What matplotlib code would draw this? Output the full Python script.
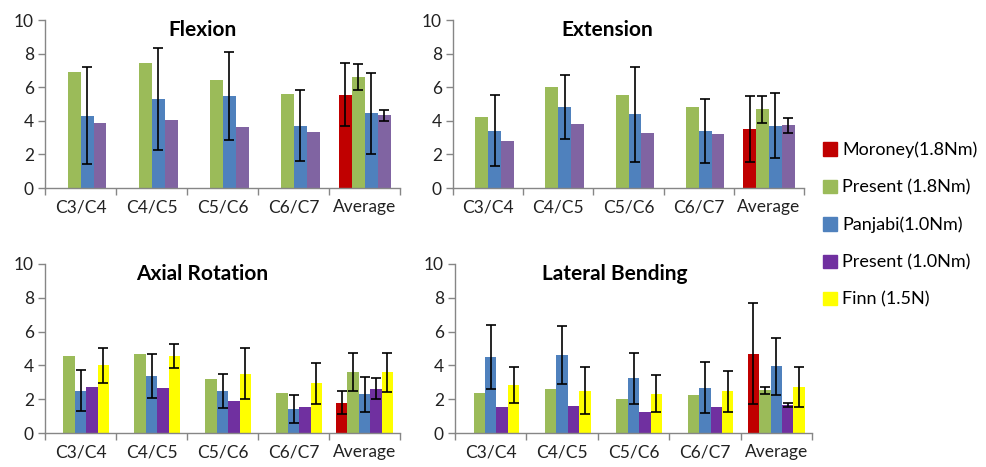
import matplotlib
matplotlib.use("Agg")
import matplotlib.pyplot as plt
from matplotlib.patches import Patch
import numpy as np

nan = np.nan
plt.rcParams['font.family'] = ['Lato', 'DejaVu Sans']

categories = ["C3/C4", "C4/C5", "C5/C6", "C6/C7", "Average"]

# Flexion
flex_moroney = [nan, nan, nan, nan, 5.55]
flex_moroney_err = [nan, nan, nan, nan, 1.87]
flex_present18 = [6.93, 7.43, 6.44, 5.60, 6.59]
flex_present18_err = [nan, nan, nan, nan, 0.77]
flex_panjabi = [4.30, 5.31, 5.50, 3.70, 4.46]
flex_panjabi_err = [2.90, 3.02, 2.62, 2.12, 2.41]
flex_present10 = [3.90, 4.02, 3.64, 3.35, 4.32]
flex_present10_err = [nan, nan, nan, nan, 0.33]

# Extension
ext_moroney = [nan, nan, nan, nan, 3.50]
ext_moroney_err = [nan, nan, nan, nan, 1.96]
ext_present18 = [4.22, 6.04, 5.52, 4.85, 4.69]
ext_present18_err = [nan, nan, nan, nan, 0.80]
ext_panjabi = [3.41, 4.81, 4.40, 3.41, 3.72]
ext_panjabi_err = [2.10, 1.91, 2.83, 1.91, 1.96]
ext_present10 = [2.77, 3.84, 3.29, 3.21, 3.74]
ext_present10_err = [nan, nan, nan, nan, 0.45]

# Axial rotation
ax_moroney = [nan, nan, nan, nan, 1.80]
ax_moroney_err = [nan, nan, nan, nan, 0.68]
ax_present18 = [4.57, 4.67, 3.17, 2.34, 3.62]
ax_present18_err = [nan, nan, nan, nan, 1.13]
ax_panjabi = [2.51, 3.39, 2.48, 1.43, 2.28]
ax_panjabi_err = [1.22, 1.31, 1.01, 0.82, 1.04]
ax_present10 = [2.75, 2.69, 1.90, 1.52, 2.61]
ax_present10_err = [nan, nan, nan, nan, 0.62]
ax_finn = [4.00, 4.55, 3.50, 2.93, 3.58]
ax_finn_err = [1.03, 0.70, 1.50, 1.21, 1.18]

# Lateral bending
lat_moroney = [nan, nan, nan, nan, 4.69]
lat_moroney_err = [nan, nan, nan, nan, 3.00]
lat_present18 = [2.34, 2.59, 2.02, 2.26, 2.53]
lat_present18_err = [nan, nan, nan, nan, 0.22]
lat_panjabi = [4.48, 4.61, 3.23, 2.69, 3.94]
lat_panjabi_err = [1.90, 1.72, 1.52, 1.50, 1.70]
lat_present10 = [1.52, 1.58, 1.27, 1.56, 1.66]
lat_present10_err = [nan, nan, nan, nan, 0.14]
lat_finn = [2.83, 2.51, 2.32, 2.46, 2.71]
lat_finn_err = [1.08, 1.38, 1.10, 1.22, 1.20]

legend_labels = ["Moroney(1.8Nm)", "Present (1.8Nm)", "Panjabi(1.0Nm)",
                 "Present (1.0Nm)", "Finn (1.5N)"]

red = "#C00000"
green = "#9BBB59"
blue = "#4F81BD"
purple_top = "#8064A2"
purple_bot = "#7030A0"
yellow = "#FFFF00"
gray = "#868686"


def panel(ax, title, series, colors, width, title_x):
    x = np.arange(len(categories))
    n = len(series)
    for i, ((vals, errs), c) in enumerate(zip(series, colors)):
        pos = x + (i - (n - 1) / 2) * width
        vals = np.array(vals)
        errs = np.array(errs)
        ax.bar(pos, vals, width, color=c, linewidth=0)
        m = ~np.isnan(errs)
        if m.any():
            ax.errorbar(pos[m], vals[m], yerr=errs[m], fmt="none", ecolor="black",
                        elinewidth=1.2, capsize=3.5, capthick=1.2)
    ax.set_xlim(-0.5, len(categories) - 0.5)
    ax.set_ylim(0, 10)
    ax.set_yticks(range(0, 11, 2))
    ax.set_xticks(x)
    ax.set_xticklabels(categories)
    ax.set_xticks(np.arange(-0.5, len(categories)), minor=True)
    ax.tick_params(axis="x", which="major", length=0, pad=8, labelsize=12.5,
                   labelcolor="#222222")
    ax.tick_params(axis="x", which="minor", length=5, color=gray, width=1)
    ax.tick_params(axis="y", length=5, color=gray, width=1, pad=3,
                   labelsize=12.5, labelcolor="#222222")
    for s in ["top", "right"]:
        ax.spines[s].set_visible(False)
    for s in ["left", "bottom"]:
        ax.spines[s].set_color(gray)
        ax.spines[s].set_linewidth(1)
    ax.text(title_x, 0.905, title, transform=ax.transAxes, ha="center",
            va="baseline", fontsize=15, fontweight="bold")


fig = plt.figure(figsize=(9.87, 4.67), dpi=100)
ax1 = fig.add_axes([0.0456, 0.5974, 0.3597, 0.3597])
ax2 = fig.add_axes([0.459, 0.5974, 0.3556, 0.3597])
ax3 = fig.add_axes([0.0456, 0.0728, 0.3597, 0.362])
ax4 = fig.add_axes([0.461, 0.0728, 0.3617, 0.362])

top_colors = [red, green, blue, purple_top]
bot_colors = [red, green, blue, purple_bot, yellow]

panel(ax1, "Flexion",
      [(flex_moroney, flex_moroney_err), (flex_present18, flex_present18_err),
       (flex_panjabi, flex_panjabi_err), (flex_present10, flex_present10_err)],
      top_colors, 0.183, 0.445)
panel(ax2, "Extension",
      [(ext_moroney, ext_moroney_err), (ext_present18, ext_present18_err),
       (ext_panjabi, ext_panjabi_err), (ext_present10, ext_present10_err)],
      top_colors, 0.183, 0.439)
panel(ax3, "Axial Rotation",
      [(ax_moroney, ax_moroney_err), (ax_present18, ax_present18_err),
       (ax_panjabi, ax_panjabi_err), (ax_present10, ax_present10_err),
       (ax_finn, ax_finn_err)],
      bot_colors, 0.16, 0.442)
panel(ax4, "Lateral Bending",
      [(lat_moroney, lat_moroney_err), (lat_present18, lat_present18_err),
       (lat_panjabi, lat_panjabi_err), (lat_present10, lat_present10_err),
       (lat_finn, lat_finn_err)],
      bot_colors, 0.16, 0.448)

handles = [Patch(color=c) for c in [red, green, blue, purple_bot, yellow]]
fig.legend(handles, legend_labels, loc="upper left", bbox_to_anchor=(0.827, 0.712),
           frameon=False, fontsize=13, handlelength=0.75, handleheight=0.75,
           handletextpad=0.3, labelspacing=1.17, borderaxespad=0)

fig.savefig("out.png", dpi=100)
